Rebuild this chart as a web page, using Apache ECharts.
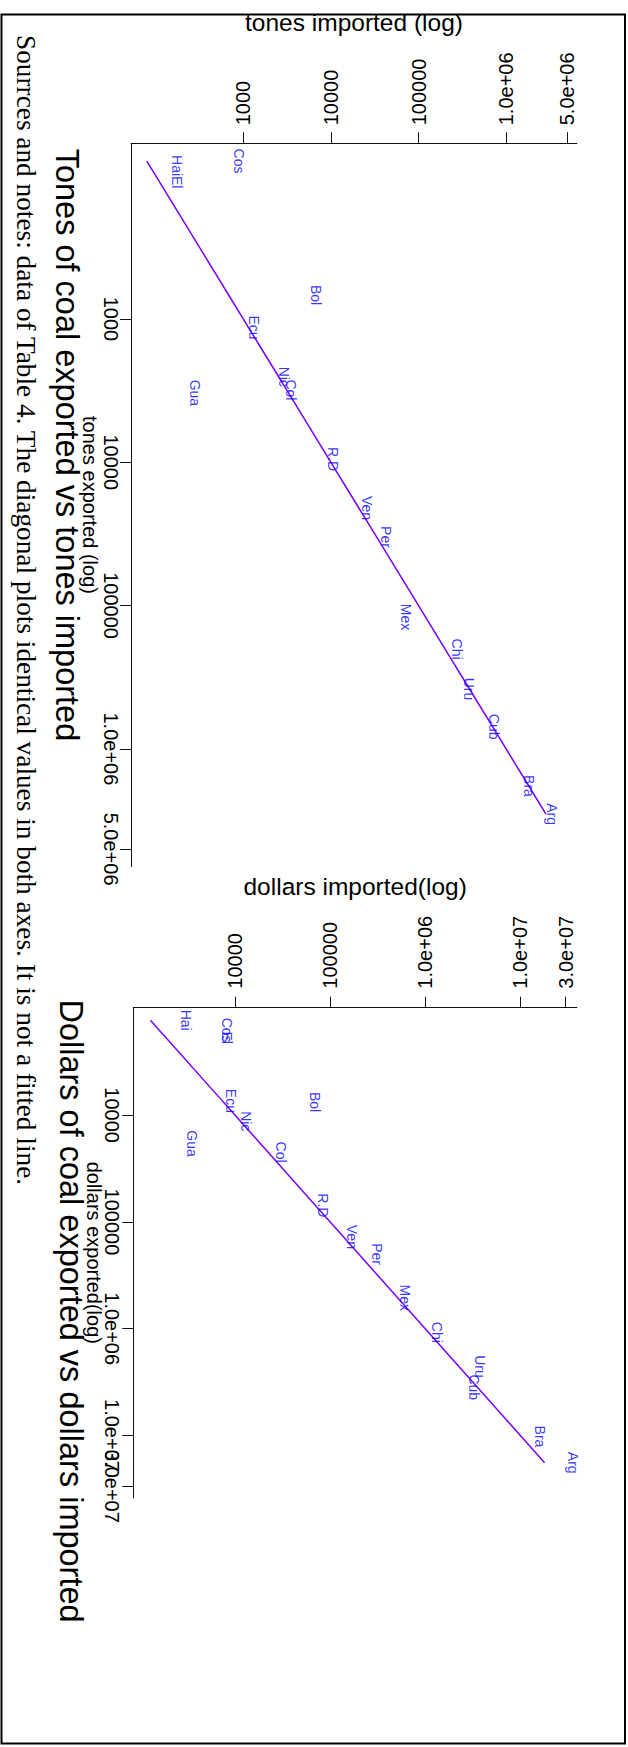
<!DOCTYPE html>
<html><head><meta charset="utf-8">
<script src="https://cdn.jsdelivr.net/npm/echarts@6/dist/echarts.min.js"></script>
<style>html,body{margin:0;padding:0;background:#fff}#c{width:628px;height:1747px}</style>
</head><body><div id="c"></div>
<script>
// ---- data ----
const countries = ['Arg','Bol','Bra','Chi','Col','Cos','Cub','Ecu','El','Gua','Hai','Mex','Nic','Per','R.D','Uru','Ven'];
const tonesImported   = [3320000, 6700, 1820000, 277000, 3460, 886, 728000, 1325, 177, 284, 177, 71100, 2920, 42300, 10640, 377500, 26050];
const tonesExported   = [2850000, 680, 1815000, 201000, 3125, 79, 700000, 1147, 111, 3280, 85, 120000, 2530, 33200, 9490, 382000, 20840];
const dollarsImported = [35800000, 69300, 16100000, 1340000, 30200, 8180, 3280000, 9010, 8180, 3530, 3030, 614000, 12960, 309000, 83600, 3740000, 168700];
const dollarsExported = [18000000, 7550, 10230000, 1081000, 22200, 1600, 3540000, 7355, 1884, 18450, 1291, 513000, 11410, 200000, 70100, 2260000, 138000];
const tonTickValues = [1000, 10000, 100000, 1000000, 5000000];
const tonTickLabels = ['1000', '10000', '100000', '1.0e+06', '5.0e+06'];
const dolTickValues = [10000, 100000, 1000000, 10000000, 30000000];
const dolTickLabels = ['10000', '100000', '1.0e+06', '1.0e+07', '3.0e+07'];
const titles = ['Tones of coal exported vs tones imported', 'Dollars of coal exported vs dollars imported'];
const note = 'Sourrces and notes: data of Table 4. The diagonal plots identical values in both axes. It is not a fitted line.';

// ---- helpers ----
const lg = Math.log10;
const SANS = '"Liberation Sans", Arial, Helvetica, sans-serif';
const SERIF = '"Liberation Serif", "Times New Roman", Times, serif';
function fmt(vals, labs) {
  return v => { const i = vals.findIndex(t => Math.abs(lg(t) - v) < 1e-6); return i < 0 ? '' : labs[i]; };
}
// o.labelTicks: subset of ticks whose labels this axis draws; o.labelsOnly: draw labels without line/ticks/name
function mkAxis(o) {
  const ticks = o.ticks.map(lg);
  const labelTicks = (o.labelTicks || o.ticks).map(lg);
  return {
    gridIndex: o.grid, type: 'value', position: o.position, inverse: !!o.inverse,
    min: o.min, max: o.max,
    name: o.labelsOnly ? '' : o.name, nameLocation: 'middle', nameGap: o.nameGap, nameRotate: o.nameRotate, nameMoveOverlap: false,
    nameTextStyle: { fontFamily: SANS, fontSize: o.nameSize, color: '#000' },
    axisLine: { show: !o.labelsOnly, onZero: false, lineStyle: { color: '#111', width: 1 } },
    axisTick: { show: !o.labelsOnly, length: 11, customValues: ticks, lineStyle: { color: '#111', width: 1 } },
    axisLabel: { show: true, customValues: labelTicks, showMinLabel: true, showMaxLabel: true, hideOverlap: false,
      rotate: -90, margin: o.margin, fontFamily: SANS, fontSize: 20, color: '#000', formatter: fmt(o.ticks, o.labels) },
    splitLine: { show: false }
  };
}
function scatter(xi, yi, imp, exp) {
  return {
    type: 'scatter', xAxisIndex: xi, yAxisIndex: yi, silent: true, z: 3,
    symbol: 'circle', symbolSize: 1, itemStyle: { color: 'rgba(0,0,0,0)' },
    label: { show: true, position: 'inside', rotate: -90, formatter: p => p.name, fontFamily: SANS, fontSize: 14, color: '#0000ff' },
    data: countries.map((c, i) => ({ name: c, value: [lg(imp[i]), lg(exp[i])] }))
  };
}
function diagonal(xi, yi, exp) {
  return {
    type: 'line', xAxisIndex: xi, yAxisIndex: yi, silent: true, z: 2, showSymbol: false, symbol: 'none',
    lineStyle: { color: '#7a00ff', width: 1.5 },
    data: exp.slice().sort((a, b) => a - b).map(v => [lg(v), lg(v)])
  };
}
function rotText(text, x, y, size, family, align) {
  return { type: 'text', x: x, y: y, rotation: -Math.PI / 2, silent: true,
    style: { text: text, fontSize: size, fontFamily: family, fill: '#000', align: align, textAlign: align, verticalAlign: 'middle', textVerticalAlign: 'middle' } };
}

const dolExpAxis = { grid: 1, position: 'left', inverse: true, min: 2.994, max: 7.585, ticks: dolTickValues, labels: dolTickLabels, name: 'dollars exported(log)', nameGap: 29, nameRotate: -90, nameSize: 20, margin: 11 };

const chart = echarts.init(document.getElementById('c'), null, { renderer: 'svg' });
chart.setOption({
  animation: false,
  backgroundColor: '#fff',
  grid: [
    { left: 131, top: 143.3, width: 446, height: 723.4, containLabel: false },
    { left: 133.3, top: 1007.7, width: 443.7, height: 722.3, containLabel: false }
  ],
  xAxis: [
    mkAxis({ grid: 0, position: 'top', min: 1.718, max: 6.809, ticks: tonTickValues, labels: tonTickLabels, name: 'tones imported (log)', nameGap: 108, nameSize: 24.5, margin: 18 }),
    mkAxis({ grid: 1, position: 'top', min: 2.931, max: 7.596, ticks: dolTickValues, labels: dolTickLabels, name: 'dollars imported(log)', nameGap: 109, nameSize: 24.5, margin: 19 })
  ],
  yAxis: [
    mkAxis({ grid: 0, position: 'left', inverse: true, min: 1.774, max: 6.822, ticks: tonTickValues, labels: tonTickLabels, name: 'tones exported (log)', nameGap: 31, nameRotate: -90, nameSize: 20, margin: 10 }),
    mkAxis(Object.assign({}, dolExpAxis, { labelTicks: dolTickValues.slice(0, 4) })),
    // the last (overlapping) label of the dollars-exported axis, drawn on a twin axis so it is not auto-hidden
    mkAxis(Object.assign({}, dolExpAxis, { labelTicks: dolTickValues.slice(4), labelsOnly: true }))
  ],
  series: [
    diagonal(0, 0, tonesExported), scatter(0, 0, tonesImported, tonesExported),
    diagonal(1, 1, dollarsExported), scatter(1, 1, dollarsImported, dollarsExported)
  ],
  graphic: [
    { type: 'rect', silent: true, shape: { x: 1.5, y: 14.5, width: 623.5, height: 1729 }, style: { fill: 'none', stroke: '#000', lineWidth: 2 } },
    rotText(titles[0], 67, 445, 32.5, SANS, 'center'),
    rotText(titles[1], 71, 1311, 32.5, SANS, 'center'),
    rotText(note, 26, 35, 27.3, SERIF, 'left')
  ]
});
</script></body></html>
